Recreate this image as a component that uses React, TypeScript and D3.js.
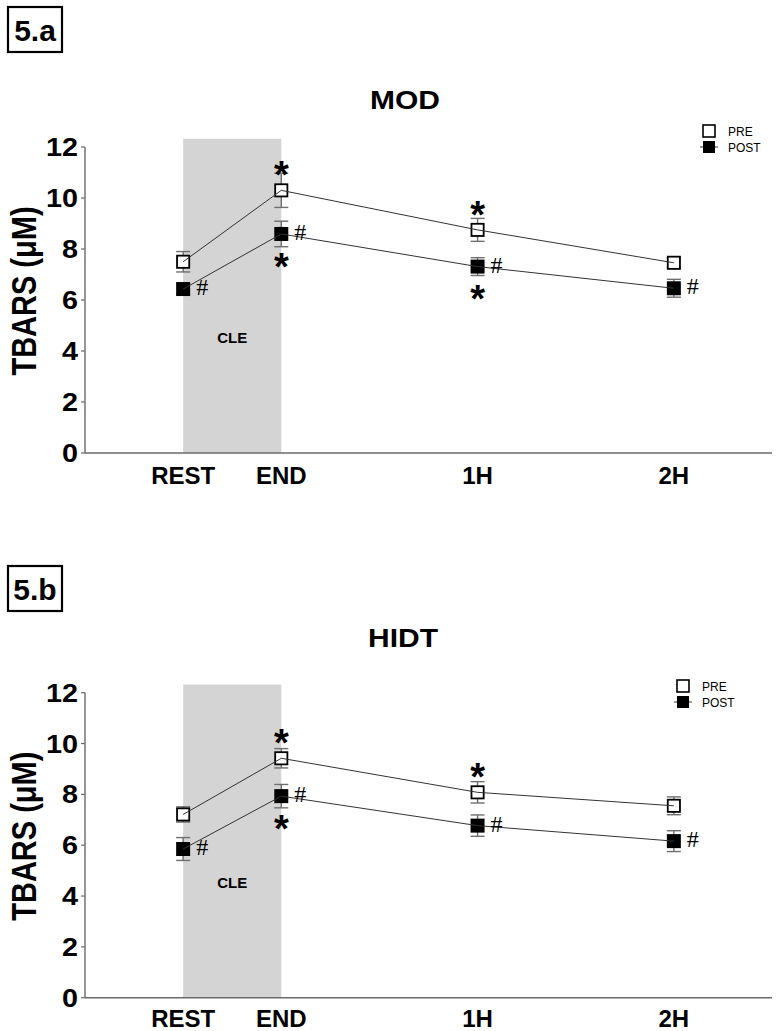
import React from 'react';
import * as d3 from 'd3';

// ---------- data ----------
const timepoints = ['REST', 'END', '1H', '2H'];
const timeValues = [0, 1, 3, 5];
const yTicks = [0, 2, 4, 6, 8, 10, 12];
const bandStart = 0;
const bandEnd = 1;
const bandTop = 12.32;
const cleLabelValue = 4.55;

// Panel 5.a — MOD
const modPre = [7.5, 10.3, 8.75, 7.46];
const modPreErr = [0.4, 0.67, 0.45, 0.2];
const modPost = [6.43, 8.59, 7.31, 6.46];
const modPostErr = [0.2, 0.5, 0.35, 0.35];
const modPreStar = [false, true, true, false];
const modPostStar = [false, true, true, false];
const modPostHash = [true, true, true, true];

// Panel 5.b — HIDT
const hidtPre = [7.21, 9.42, 8.08, 7.55];
const hidtPreErr = [0.3, 0.38, 0.42, 0.35];
const hidtPost = [5.85, 7.93, 6.77, 6.16];
const hidtPostErr = [0.45, 0.46, 0.42, 0.41];
const hidtPreStar = [false, true, true, false];
const hidtPostStar = [false, true, false, false];
const hidtPostHash = [true, true, true, true];

const legendLabels = ['PRE', 'POST'];

// ---------- layout ----------
const W = 779;
const H = 1031;
const FONT = '"Liberation Sans", Arial, Helvetica, sans-serif';
const SERIF = '"Liberation Serif", "Times New Roman", serif';

const x = d3.scaleLinear().domain([-1, 6]).range([85, 772]);

type PanelCfg = {
  label: string;
  title: string;
  top: number; // pixel of y=12
  bottom: number; // pixel of y=0
  pre: number[];
  preErr: number[];
  post: number[];
  postErr: number[];
  preStar: boolean[];
  postStar: boolean[];
  postHash: boolean[];
  boxY: number;
  titleY: number;
  titleX: number;
  legendX: number;
  legendY: number;
  xLabelDy: number;
};

const panels: PanelCfg[] = [
  {
    label: '5.a', title: 'MOD', top: 147, bottom: 453,
    pre: modPre, preErr: modPreErr, post: modPost, postErr: modPostErr,
    preStar: modPreStar, postStar: modPostStar, postHash: modPostHash,
    boxY: 7, titleY: 109, titleX: 405, legendX: 703, legendY: 131, xLabelDy: 31,
  },
  {
    label: '5.b', title: 'HIDT', top: 692.7, bottom: 997.7,
    pre: hidtPre, preErr: hidtPreErr, post: hidtPost, postErr: hidtPostErr,
    preStar: hidtPreStar, postStar: hidtPostStar, postHash: hidtPostHash,
    boxY: 566, titleY: 647, titleX: 403, legendX: 677, legendY: 686, xLabelDy: 29,
  },
];

const MS = 14; // marker size
const ERR_COLOR = '#6e6e6e';
const AXIS_COLOR = '#6a6a6a';
const STAR_SIZE = 38;
const HASH_SIZE = 24;

function Panel({ cfg }: { cfg: PanelCfg }) {
  const y = d3.scaleLinear().domain([0, 12]).range([cfg.bottom, cfg.top]);
  const line = d3
    .line<number>()
    .x((_, i) => x(timeValues[i]))
    .y((d) => y(d));

  const errBar = (v: number, e: number, i: number, key: string) => {
    const cx = x(timeValues[i]);
    return (
      <g key={key} stroke={ERR_COLOR} strokeWidth={1.4}>
        <line x1={cx} x2={cx} y1={y(v - e)} y2={y(v + e)} />
        <line x1={cx - MS / 2} x2={cx + MS / 2} y1={y(v - e)} y2={y(v - e)} />
        <line x1={cx - MS / 2} x2={cx + MS / 2} y1={y(v + e)} y2={y(v + e)} />
      </g>
    );
  };

  const yMid = (cfg.top + cfg.bottom) / 2 - 9;
  const starDy = STAR_SIZE * 0.57;

  return (
    <g>
      {/* panel label box */}
      <rect x={8} y={cfg.boxY} width={54} height={45} fill="white" stroke="black" strokeWidth={2.2} />
      <text x={35} y={cfg.boxY + 34} textAnchor="middle" fontFamily={FONT} fontWeight="bold" fontSize={30}>
        {cfg.label}
      </text>

      {/* title */}
      <text
        transform={`translate(${cfg.titleX},${cfg.titleY}) scale(1.2,1)`}
        textAnchor="middle"
        fontFamily={FONT}
        fontWeight="bold"
        fontSize={25}
      >
        {cfg.title}
      </text>

      {/* shaded exercise band */}
      <rect
        x={x(bandStart)}
        y={y(bandTop)}
        width={x(bandEnd) - x(bandStart)}
        height={y(0) - y(bandTop)}
        fill="#d4d4d4"
      />
      <text x={(x(bandStart) + x(bandEnd)) / 2} y={y(cleLabelValue) + 6} textAnchor="middle" fontFamily={FONT} fontWeight="bold" fontSize={15}>
        CLE
      </text>

      {/* axes */}
      <line x1={x(-1)} x2={x(-1)} y1={y(0)} y2={y(12)} stroke={AXIS_COLOR} strokeWidth={1.4} />
      <line x1={x(-1)} x2={x(6)} y1={y(0)} y2={y(0)} stroke={AXIS_COLOR} strokeWidth={1.4} />
      {yTicks.map((t) => (
        <g key={t}>
          <line x1={x(-1) - 4} x2={x(-1)} y1={y(t)} y2={y(t)} stroke={AXIS_COLOR} strokeWidth={1.2} />
          <text
            transform={`translate(${x(-1) - 7},${y(t) + 9}) scale(1.15,1)`}
            textAnchor="end"
            fontFamily={FONT}
            fontWeight="bold"
            fontSize={25}
          >
            {t}
          </text>
        </g>
      ))}
      {timepoints.map((tp, i) => (
        <text key={tp} x={x(timeValues[i])} y={y(0) + cfg.xLabelDy} textAnchor="middle" fontFamily={FONT} fontWeight="bold" fontSize={24}>
          {tp}
        </text>
      ))}
      <text
        transform={`translate(36,${yMid}) scale(1.2,1) rotate(-90)`}
        textAnchor="middle"
        fontFamily={FONT}
        fontWeight="bold"
        fontSize={29}
      >
        TBARS (μM)
      </text>

      {/* error bars */}
      {cfg.pre.map((v, i) => errBar(v, cfg.preErr[i], i, 'pe' + i))}
      {cfg.post.map((v, i) => errBar(v, cfg.postErr[i], i, 'qe' + i))}

      {/* markers */}
      {cfg.pre.map((v, i) => (
        <rect key={'pm' + i} x={x(timeValues[i]) - MS / 2 + 0.9} y={y(v) - MS / 2 + 0.9} width={MS - 1.8} height={MS - 1.8} fill="white" stroke="black" strokeWidth={1.8} />
      ))}
      {cfg.post.map((v, i) => (
        <rect key={'qm' + i} x={x(timeValues[i]) - MS / 2} y={y(v) - MS / 2} width={MS} height={MS} fill="black" />
      ))}

      {/* connecting lines */}
      <path d={line(cfg.pre) || ''} fill="none" stroke="#333" strokeWidth={1} />
      <path d={line(cfg.post) || ''} fill="none" stroke="#333" strokeWidth={1} />

      {/* significance marks */}
      {cfg.pre.map((v, i) =>
        cfg.preStar[i] ? (
          <text key={'ps' + i} x={x(timeValues[i])} y={y(v) - 24 + starDy} textAnchor="middle" fontFamily={FONT} fontWeight="bold" fontSize={STAR_SIZE}>
            *
          </text>
        ) : null
      )}
      {cfg.post.map((v, i) =>
        cfg.postStar[i] ? (
          <text key={'qs' + i} x={x(timeValues[i])} y={y(v) + 24 + starDy} textAnchor="middle" fontFamily={FONT} fontWeight="bold" fontSize={STAR_SIZE}>
            *
          </text>
        ) : null
      )}
      {cfg.post.map((v, i) =>
        cfg.postHash[i] ? (
          <text key={'qh' + i} x={x(timeValues[i]) + 19} y={y(v) + 6} textAnchor="middle" fontFamily={SERIF} fontSize={HASH_SIZE}>
            #
          </text>
        ) : null
      )}

      {/* legend */}
      <g>
        <rect x={cfg.legendX} y={cfg.legendY - 6} width={12} height={12} fill="white" stroke="black" strokeWidth={1.6} />
        <text x={cfg.legendX + 25} y={cfg.legendY + 4.5} fontFamily={FONT} fontSize={12}>
          {legendLabels[0]}
        </text>
        <line x1={cfg.legendX - 3} x2={cfg.legendX + 15} y1={cfg.legendY + 16} y2={cfg.legendY + 16} stroke="#333" strokeWidth={1} />
        <rect x={cfg.legendX} y={cfg.legendY + 10} width={12} height={12} fill="black" />
        <text x={cfg.legendX + 25} y={cfg.legendY + 20.5} fontFamily={FONT} fontSize={12}>
          {legendLabels[1]}
        </text>
      </g>
    </g>
  );
}

export default function App() {
  return (
    <svg width={W} height={H} viewBox={`0 0 ${W} ${H}`} style={{ position: 'absolute', left: 0, top: 0, background: 'white' }}>
      <rect width={W} height={H} fill="white" />
      {panels.map((p) => (
        <Panel key={p.label} cfg={p} />
      ))}
    </svg>
  );
}
